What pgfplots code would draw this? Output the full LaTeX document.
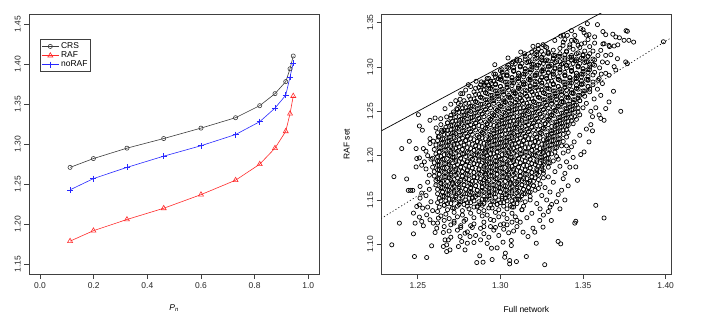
\documentclass[border=0pt]{standalone}
\usepackage{fontspec}
\setmainfont{Liberation Sans}
\usepackage{pgfplots}
\pgfplotsset{compat=1.18}

\definecolor{crs}{RGB}{60,60,60}
\definecolor{rafred}{RGB}{255,40,40}
\definecolor{norafblue}{RGB}{40,40,255}

\pgfplotsset{
  rstyle/.style={
    scale only axis,
    axis line style={black!75, line width=0.6pt},
    tick style={black!75, line width=0.6pt},
    tick align=outside,
    major tick length=5bp,
    xtick pos=left, ytick pos=left,
    tick label style={font=\fontsize{8.5}{10}\selectfont, black!85},
    /pgf/number format/assume math mode=true,
    yticklabel style={rotate=90, anchor=south},
    label style={font=\fontsize{8.5}{10}\selectfont},
  }
}

\begin{document}
\begin{tikzpicture}
\path[use as bounding box] (0,0) rectangle (708bp,329bp);

% ---- left panel ----
\begin{axis}[rstyle,
  at={(29.3bp,55bp)}, anchor=south west,
  width=289.7bp, height=259.7bp,
  xmin=-0.04, xmax=1.04, ymin=1.138, ymax=1.462,
  xtick={0,0.2,0.4,0.6,0.8,1.0},
  ytick={1.15,1.20,1.25,1.30,1.35,1.40,1.45},
  xticklabel style={/pgf/number format/fixed, /pgf/number format/fixed zerofill, /pgf/number format/precision=1},
  yticklabel style={/pgf/number format/fixed, /pgf/number format/fixed zerofill, /pgf/number format/precision=2},
  xlabel={\textit{P}\textsubscript{\textit{n}}},
  xlabel style={at={(axis description cs:0.5,-0.131)}, anchor=center},
  legend style={at={(rel axis cs:0.037,0.904)}, anchor=north west,
    draw=black!75, line width=0.6pt, inner sep=1.2pt, row sep=-2.2pt,
    font=\fontsize{8.5}{10}\selectfont},
  legend cell align=left,
]
\addplot[crs, line width=0.6pt, mark=o, mark size=2.1bp] coordinates {
  (0.112,1.271) (0.199,1.282) (0.324,1.295) (0.461,1.307) (0.600,1.320) (0.729,1.333)
  (0.819,1.348) (0.876,1.363) (0.916,1.378) (0.932,1.394) (0.944,1.410)
};
\addlegendentry{CRS}
\addplot[rafred, line width=0.6pt, mark=triangle, mark size=2.9bp] coordinates {
  (0.112,1.179) (0.199,1.192) (0.324,1.206) (0.461,1.220) (0.600,1.237) (0.729,1.255)
  (0.819,1.275) (0.876,1.295) (0.916,1.316) (0.932,1.338) (0.944,1.360)
};
\addlegendentry{RAF}
\addplot[norafblue, line width=0.6pt, mark=+, mark size=3bp] coordinates {
  (0.112,1.243) (0.199,1.257) (0.324,1.271) (0.461,1.285) (0.600,1.298) (0.729,1.312)
  (0.819,1.328) (0.876,1.345) (0.916,1.361) (0.932,1.384) (0.944,1.401)
};
\addlegendentry{noRAF}
\end{axis}

% ---- right panel ----
\begin{axis}[rstyle,
  at={(381.7bp,55bp)}, anchor=south west,
  width=289.3bp, height=260bp,
  xmin=1.2282, xmax=1.4032, ymin=1.0665, ymax=1.3598,
  xtick={1.25,1.30,1.35,1.40},
  ytick={1.10,1.15,1.20,1.25,1.30,1.35},
  xticklabel style={/pgf/number format/fixed, /pgf/number format/fixed zerofill, /pgf/number format/precision=2},
  yticklabel style={/pgf/number format/fixed, /pgf/number format/fixed zerofill, /pgf/number format/precision=2},
  xlabel={Full network},
  xlabel style={at={(axis description cs:0.5,-0.138)}, anchor=center},
  ylabel={RAF set},
  ylabel style={at={(axis description cs:-0.121,0.5)}, anchor=center},
]
\addplot[only marks, mark=o, mark size=2.1bp, black, mark options={line width=0.7pt}] coordinates {
% dense core, row by row
(1.328,1.322)(1.332,1.319)(1.336,1.321)(1.340,1.318)(1.344,1.320)(1.348,1.322)(1.351,1.318)
(1.322,1.317)(1.326,1.314)(1.329,1.316)(1.333,1.313)(1.336,1.315)(1.340,1.317)(1.343,1.313)(1.347,1.316)(1.350,1.314)(1.354,1.315)
(1.318,1.312)(1.321,1.309)(1.325,1.311)(1.328,1.308)(1.332,1.310)(1.335,1.312)(1.339,1.308)(1.342,1.311)(1.346,1.309)(1.349,1.310)(1.353,1.312)(1.356,1.309)
(1.310,1.307)(1.313,1.304)(1.317,1.306)(1.320,1.303)(1.324,1.305)(1.327,1.307)(1.331,1.303)(1.334,1.306)(1.338,1.304)(1.341,1.305)(1.345,1.307)(1.348,1.304)(1.352,1.306)(1.356,1.303)
(1.305,1.302)(1.308,1.299)(1.312,1.301)(1.315,1.298)(1.319,1.300)(1.322,1.302)(1.326,1.298)(1.329,1.301)(1.333,1.299)(1.336,1.300)(1.340,1.302)(1.343,1.299)(1.347,1.301)(1.350,1.298)(1.354,1.300)(1.357,1.302)
(1.301,1.297)(1.304,1.294)(1.308,1.296)(1.311,1.293)(1.315,1.295)(1.318,1.297)(1.322,1.293)(1.325,1.296)(1.329,1.294)(1.332,1.295)(1.336,1.297)(1.339,1.294)(1.343,1.296)(1.346,1.293)(1.350,1.295)(1.353,1.297)(1.357,1.294)
(1.297,1.292)(1.300,1.289)(1.304,1.291)(1.307,1.288)(1.311,1.290)(1.314,1.292)(1.318,1.288)(1.321,1.291)(1.325,1.289)(1.328,1.290)(1.332,1.292)(1.335,1.289)(1.339,1.291)(1.342,1.288)(1.346,1.290)(1.349,1.292)(1.353,1.289)(1.356,1.291)
(1.293,1.287)(1.296,1.284)(1.300,1.286)(1.303,1.283)(1.307,1.285)(1.310,1.287)(1.314,1.283)(1.317,1.286)(1.321,1.284)(1.324,1.285)(1.328,1.287)(1.331,1.284)(1.335,1.286)(1.338,1.283)(1.342,1.285)(1.345,1.287)(1.349,1.284)(1.352,1.286)(1.356,1.283)
(1.290,1.282)(1.293,1.279)(1.297,1.281)(1.300,1.278)(1.304,1.280)(1.307,1.282)(1.311,1.278)(1.314,1.281)(1.318,1.279)(1.321,1.280)(1.325,1.282)(1.328,1.279)(1.332,1.281)(1.335,1.278)(1.339,1.280)(1.342,1.282)(1.346,1.279)(1.349,1.281)(1.353,1.278)(1.356,1.280)
(1.287,1.277)(1.290,1.274)(1.294,1.276)(1.297,1.273)(1.301,1.275)(1.304,1.277)(1.308,1.273)(1.311,1.276)(1.315,1.274)(1.318,1.275)(1.322,1.277)(1.325,1.274)(1.329,1.276)(1.332,1.273)(1.336,1.275)(1.339,1.277)(1.343,1.274)(1.346,1.276)(1.350,1.273)(1.354,1.275)
(1.284,1.272)(1.287,1.269)(1.291,1.271)(1.294,1.268)(1.298,1.270)(1.301,1.272)(1.305,1.268)(1.308,1.271)(1.312,1.269)(1.315,1.270)(1.319,1.272)(1.322,1.269)(1.326,1.271)(1.329,1.268)(1.333,1.270)(1.336,1.272)(1.340,1.269)(1.343,1.271)(1.347,1.268)(1.350,1.270)(1.354,1.272)
(1.281,1.267)(1.284,1.264)(1.288,1.266)(1.291,1.263)(1.295,1.265)(1.298,1.267)(1.302,1.263)(1.305,1.266)(1.309,1.264)(1.312,1.265)(1.316,1.267)(1.319,1.264)(1.323,1.266)(1.326,1.263)(1.330,1.265)(1.333,1.267)(1.337,1.264)(1.340,1.266)(1.344,1.263)(1.347,1.265)(1.351,1.267)
(1.278,1.262)(1.281,1.259)(1.285,1.261)(1.288,1.258)(1.292,1.260)(1.295,1.262)(1.299,1.258)(1.302,1.261)(1.306,1.259)(1.309,1.260)(1.313,1.262)(1.316,1.259)(1.320,1.261)(1.323,1.258)(1.327,1.260)(1.330,1.262)(1.334,1.259)(1.337,1.261)(1.341,1.258)(1.344,1.260)(1.348,1.262)(1.352,1.259)
(1.276,1.257)(1.279,1.254)(1.283,1.256)(1.286,1.253)(1.290,1.255)(1.293,1.257)(1.297,1.253)(1.300,1.256)(1.304,1.254)(1.307,1.255)(1.311,1.257)(1.314,1.254)(1.318,1.256)(1.321,1.253)(1.325,1.255)(1.328,1.257)(1.332,1.254)(1.335,1.256)(1.339,1.253)(1.342,1.255)(1.346,1.257)(1.350,1.254)
(1.274,1.252)(1.277,1.249)(1.281,1.251)(1.284,1.248)(1.288,1.250)(1.291,1.252)(1.295,1.248)(1.298,1.251)(1.302,1.249)(1.305,1.250)(1.309,1.252)(1.312,1.249)(1.316,1.251)(1.319,1.248)(1.323,1.250)(1.326,1.252)(1.330,1.249)(1.333,1.251)(1.337,1.248)(1.340,1.250)(1.344,1.252)(1.347,1.249)
(1.272,1.247)(1.275,1.244)(1.279,1.246)(1.282,1.243)(1.286,1.245)(1.289,1.247)(1.293,1.243)(1.296,1.246)(1.300,1.244)(1.303,1.245)(1.307,1.247)(1.310,1.244)(1.314,1.246)(1.317,1.243)(1.321,1.245)(1.324,1.247)(1.328,1.244)(1.331,1.246)(1.335,1.243)(1.338,1.245)(1.342,1.247)(1.345,1.244)(1.348,1.246)
(1.270,1.242)(1.273,1.239)(1.277,1.241)(1.280,1.238)(1.284,1.240)(1.287,1.242)(1.291,1.238)(1.294,1.241)(1.298,1.239)(1.301,1.240)(1.305,1.242)(1.308,1.239)(1.312,1.241)(1.315,1.238)(1.319,1.240)(1.322,1.242)(1.326,1.239)(1.329,1.241)(1.333,1.238)(1.336,1.240)(1.340,1.242)(1.343,1.239)(1.346,1.241)
(1.268,1.237)(1.271,1.234)(1.275,1.236)(1.278,1.233)(1.282,1.235)(1.285,1.237)(1.289,1.233)(1.292,1.236)(1.296,1.234)(1.299,1.235)(1.303,1.237)(1.306,1.234)(1.310,1.236)(1.313,1.233)(1.317,1.235)(1.320,1.237)(1.324,1.234)(1.327,1.236)(1.331,1.233)(1.334,1.235)(1.338,1.237)(1.341,1.234)(1.344,1.236)
(1.267,1.232)(1.270,1.229)(1.274,1.231)(1.277,1.228)(1.281,1.230)(1.284,1.232)(1.288,1.228)(1.291,1.231)(1.295,1.229)(1.298,1.230)(1.302,1.232)(1.305,1.229)(1.309,1.231)(1.312,1.228)(1.316,1.230)(1.319,1.232)(1.323,1.229)(1.326,1.231)(1.330,1.228)(1.333,1.230)(1.337,1.232)(1.340,1.229)
(1.265,1.227)(1.268,1.224)(1.272,1.226)(1.275,1.223)(1.279,1.225)(1.282,1.227)(1.286,1.223)(1.289,1.226)(1.293,1.224)(1.296,1.225)(1.300,1.227)(1.303,1.224)(1.307,1.226)(1.310,1.223)(1.314,1.225)(1.317,1.227)(1.321,1.224)(1.324,1.226)(1.328,1.223)(1.331,1.225)(1.335,1.227)(1.338,1.224)(1.341,1.226)
(1.263,1.222)(1.266,1.219)(1.270,1.221)(1.273,1.218)(1.277,1.220)(1.280,1.222)(1.284,1.218)(1.287,1.221)(1.291,1.219)(1.294,1.220)(1.298,1.222)(1.301,1.219)(1.305,1.221)(1.308,1.218)(1.312,1.220)(1.315,1.222)(1.319,1.219)(1.322,1.221)(1.326,1.218)(1.329,1.220)(1.333,1.222)(1.336,1.219)(1.340,1.221)
(1.262,1.217)(1.265,1.214)(1.269,1.216)(1.272,1.213)(1.276,1.215)(1.279,1.217)(1.283,1.213)(1.286,1.216)(1.290,1.214)(1.293,1.215)(1.297,1.217)(1.300,1.214)(1.304,1.216)(1.307,1.213)(1.311,1.215)(1.314,1.217)(1.318,1.214)(1.321,1.216)(1.325,1.213)(1.328,1.215)(1.332,1.217)(1.335,1.214)(1.338,1.216)
(1.261,1.212)(1.264,1.209)(1.268,1.211)(1.271,1.208)(1.275,1.210)(1.278,1.212)(1.282,1.208)(1.285,1.211)(1.289,1.209)(1.292,1.210)(1.296,1.212)(1.299,1.209)(1.303,1.211)(1.306,1.208)(1.310,1.210)(1.313,1.212)(1.317,1.209)(1.320,1.211)(1.324,1.208)(1.327,1.210)(1.331,1.212)(1.334,1.209)(1.337,1.211)
(1.260,1.207)(1.263,1.204)(1.267,1.206)(1.270,1.203)(1.274,1.205)(1.277,1.207)(1.281,1.203)(1.284,1.206)(1.288,1.204)(1.291,1.205)(1.295,1.207)(1.298,1.204)(1.302,1.206)(1.305,1.203)(1.309,1.205)(1.312,1.207)(1.316,1.204)(1.319,1.206)(1.323,1.203)(1.326,1.205)(1.330,1.207)(1.333,1.204)
(1.261,1.202)(1.264,1.199)(1.268,1.201)(1.271,1.198)(1.275,1.200)(1.278,1.202)(1.282,1.198)(1.285,1.201)(1.289,1.199)(1.292,1.200)(1.296,1.202)(1.299,1.199)(1.303,1.201)(1.306,1.198)(1.310,1.200)(1.313,1.202)(1.317,1.199)(1.320,1.201)(1.324,1.198)(1.327,1.200)(1.331,1.202)(1.334,1.199)
(1.259,1.197)(1.262,1.194)(1.266,1.196)(1.269,1.193)(1.273,1.195)(1.276,1.197)(1.280,1.193)(1.283,1.196)(1.287,1.194)(1.290,1.195)(1.294,1.197)(1.297,1.194)(1.301,1.196)(1.304,1.193)(1.308,1.195)(1.311,1.197)(1.315,1.194)(1.318,1.196)(1.322,1.193)(1.325,1.195)(1.329,1.197)(1.332,1.194)
(1.260,1.192)(1.263,1.189)(1.267,1.191)(1.270,1.188)(1.274,1.190)(1.277,1.192)(1.281,1.188)(1.284,1.191)(1.288,1.189)(1.291,1.190)(1.295,1.192)(1.298,1.189)(1.302,1.191)(1.305,1.188)(1.309,1.190)(1.312,1.192)(1.316,1.189)(1.319,1.191)(1.323,1.188)(1.326,1.190)(1.330,1.192)
(1.259,1.187)(1.262,1.184)(1.266,1.186)(1.269,1.183)(1.273,1.185)(1.276,1.187)(1.280,1.183)(1.283,1.186)(1.287,1.184)(1.290,1.185)(1.294,1.187)(1.297,1.184)(1.301,1.186)(1.304,1.183)(1.308,1.185)(1.311,1.187)(1.315,1.184)(1.318,1.186)(1.322,1.183)(1.325,1.185)(1.329,1.187)
(1.260,1.182)(1.263,1.179)(1.267,1.181)(1.270,1.178)(1.274,1.180)(1.277,1.182)(1.281,1.178)(1.284,1.181)(1.288,1.179)(1.291,1.180)(1.295,1.182)(1.298,1.179)(1.302,1.181)(1.305,1.178)(1.309,1.180)(1.312,1.182)(1.316,1.179)(1.319,1.181)(1.323,1.178)(1.326,1.180)
(1.260,1.177)(1.263,1.174)(1.267,1.176)(1.270,1.173)(1.274,1.175)(1.277,1.177)(1.281,1.173)(1.284,1.176)(1.288,1.174)(1.291,1.175)(1.295,1.177)(1.298,1.174)(1.302,1.176)(1.305,1.173)(1.309,1.175)(1.312,1.177)(1.316,1.174)(1.319,1.176)(1.323,1.173)(1.326,1.175)
(1.261,1.172)(1.264,1.169)(1.268,1.171)(1.271,1.168)(1.275,1.170)(1.278,1.172)(1.282,1.168)(1.285,1.171)(1.289,1.169)(1.292,1.170)(1.296,1.172)(1.299,1.169)(1.303,1.171)(1.306,1.168)(1.310,1.170)(1.313,1.172)(1.317,1.169)(1.320,1.171)(1.324,1.168)
(1.261,1.167)(1.264,1.164)(1.268,1.166)(1.271,1.163)(1.275,1.165)(1.278,1.167)(1.282,1.163)(1.285,1.166)(1.289,1.164)(1.292,1.165)(1.296,1.167)(1.299,1.164)(1.303,1.166)(1.306,1.163)(1.310,1.165)(1.313,1.167)(1.317,1.164)(1.320,1.166)(1.323,1.163)
(1.262,1.162)(1.265,1.159)(1.269,1.161)(1.272,1.158)(1.276,1.160)(1.279,1.162)(1.283,1.158)(1.286,1.161)(1.290,1.159)(1.293,1.160)(1.297,1.162)(1.300,1.159)(1.304,1.161)(1.307,1.158)(1.311,1.160)(1.314,1.162)(1.318,1.159)(1.321,1.161)
(1.262,1.157)(1.266,1.154)(1.269,1.156)(1.273,1.153)(1.276,1.155)(1.280,1.157)(1.283,1.153)(1.287,1.156)(1.290,1.154)(1.294,1.155)(1.297,1.157)(1.301,1.154)(1.304,1.156)(1.308,1.153)(1.311,1.155)(1.315,1.157)(1.318,1.154)
(1.263,1.152)(1.267,1.149)(1.271,1.151)(1.275,1.148)(1.279,1.150)(1.283,1.152)(1.287,1.148)(1.291,1.151)(1.295,1.149)(1.299,1.150)(1.303,1.152)(1.307,1.149)(1.311,1.151)(1.315,1.148)(1.318,1.150)
(1.262,1.147)(1.266,1.144)(1.270,1.146)(1.274,1.143)(1.278,1.145)(1.282,1.147)(1.286,1.143)(1.290,1.146)(1.294,1.144)(1.298,1.145)(1.302,1.147)(1.306,1.144)(1.310,1.146)(1.314,1.143)
(1.263,1.142)(1.268,1.139)(1.272,1.141)(1.277,1.138)(1.281,1.140)(1.286,1.142)(1.290,1.138)(1.295,1.141)(1.299,1.139)(1.304,1.140)(1.308,1.142)(1.313,1.139)
(1.262,1.137)(1.267,1.134)(1.272,1.136)(1.277,1.133)(1.282,1.135)(1.287,1.137)(1.292,1.133)(1.297,1.136)(1.302,1.134)(1.307,1.135)
(1.264,1.132)(1.269,1.129)(1.274,1.131)(1.279,1.128)(1.284,1.130)(1.289,1.132)(1.294,1.128)(1.299,1.131)(1.304,1.129)
(1.266,1.127)(1.272,1.124)(1.278,1.126)(1.284,1.123)(1.290,1.125)(1.296,1.127)(1.302,1.123)
(1.270,1.122)(1.276,1.119)(1.282,1.121)(1.288,1.118)(1.294,1.120)(1.300,1.122)
% dense core, rows in between
(1.322,1.314)(1.325,1.311)(1.329,1.315)(1.332,1.313)(1.336,1.312)(1.339,1.314)(1.343,1.311)(1.346,1.315)(1.350,1.313)(1.353,1.312)
(1.315,1.309)(1.318,1.306)(1.322,1.310)(1.325,1.308)(1.329,1.307)(1.332,1.309)(1.336,1.306)(1.339,1.310)(1.343,1.308)(1.346,1.307)(1.350,1.309)(1.353,1.306)
(1.309,1.304)(1.312,1.301)(1.316,1.305)(1.319,1.303)(1.323,1.302)(1.326,1.304)(1.330,1.301)(1.333,1.305)(1.337,1.303)(1.340,1.302)(1.344,1.304)(1.347,1.301)(1.351,1.305)(1.354,1.303)
(1.305,1.299)(1.308,1.296)(1.312,1.300)(1.315,1.298)(1.319,1.297)(1.322,1.299)(1.326,1.296)(1.329,1.300)(1.333,1.298)(1.336,1.297)(1.340,1.299)(1.343,1.296)(1.347,1.300)(1.350,1.298)(1.354,1.297)
(1.301,1.294)(1.304,1.291)(1.308,1.295)(1.311,1.293)(1.315,1.292)(1.318,1.294)(1.322,1.291)(1.325,1.295)(1.329,1.293)(1.332,1.292)(1.336,1.294)(1.339,1.291)(1.343,1.295)(1.346,1.293)(1.350,1.292)(1.353,1.294)
(1.297,1.289)(1.300,1.286)(1.304,1.290)(1.307,1.288)(1.311,1.287)(1.314,1.289)(1.318,1.286)(1.321,1.290)(1.325,1.288)(1.328,1.287)(1.332,1.289)(1.335,1.286)(1.339,1.290)(1.342,1.288)(1.346,1.287)(1.349,1.289)(1.353,1.286)
(1.294,1.284)(1.297,1.281)(1.301,1.285)(1.304,1.283)(1.308,1.282)(1.311,1.284)(1.315,1.281)(1.318,1.285)(1.322,1.283)(1.325,1.282)(1.329,1.284)(1.332,1.281)(1.336,1.285)(1.339,1.283)(1.343,1.282)(1.346,1.284)(1.350,1.281)(1.353,1.285)
(1.290,1.279)(1.293,1.276)(1.297,1.280)(1.300,1.278)(1.304,1.277)(1.307,1.279)(1.311,1.276)(1.314,1.280)(1.318,1.278)(1.321,1.277)(1.325,1.279)(1.328,1.276)(1.332,1.280)(1.335,1.278)(1.339,1.277)(1.342,1.279)(1.346,1.276)(1.349,1.280)(1.353,1.278)
(1.288,1.274)(1.291,1.271)(1.295,1.275)(1.298,1.273)(1.302,1.272)(1.305,1.274)(1.309,1.271)(1.312,1.275)(1.316,1.273)(1.319,1.272)(1.323,1.274)(1.326,1.271)(1.330,1.275)(1.333,1.273)(1.337,1.272)(1.340,1.274)(1.344,1.271)(1.347,1.275)(1.351,1.273)
(1.285,1.269)(1.288,1.266)(1.292,1.270)(1.295,1.268)(1.299,1.267)(1.302,1.269)(1.306,1.266)(1.309,1.270)(1.313,1.268)(1.316,1.267)(1.320,1.269)(1.323,1.266)(1.327,1.270)(1.330,1.268)(1.334,1.267)(1.337,1.269)(1.341,1.266)(1.344,1.270)(1.348,1.268)
(1.282,1.264)(1.285,1.261)(1.289,1.265)(1.292,1.263)(1.296,1.262)(1.299,1.264)(1.303,1.261)(1.306,1.265)(1.310,1.263)(1.313,1.262)(1.317,1.264)(1.320,1.261)(1.324,1.265)(1.327,1.263)(1.331,1.262)(1.334,1.264)(1.338,1.261)(1.341,1.265)(1.345,1.263)(1.348,1.262)
(1.279,1.259)(1.282,1.256)(1.286,1.260)(1.289,1.258)(1.293,1.257)(1.296,1.259)(1.300,1.256)(1.303,1.260)(1.307,1.258)(1.310,1.257)(1.314,1.259)(1.317,1.256)(1.321,1.260)(1.324,1.258)(1.328,1.257)(1.331,1.259)(1.335,1.256)(1.338,1.260)(1.342,1.258)(1.345,1.257)
(1.277,1.254)(1.280,1.251)(1.284,1.255)(1.287,1.253)(1.291,1.252)(1.294,1.254)(1.298,1.251)(1.301,1.255)(1.305,1.253)(1.308,1.252)(1.312,1.254)(1.315,1.251)(1.319,1.255)(1.322,1.253)(1.326,1.252)(1.329,1.254)(1.333,1.251)(1.336,1.255)(1.340,1.253)(1.343,1.252)(1.347,1.254)
(1.275,1.249)(1.278,1.246)(1.282,1.250)(1.285,1.248)(1.289,1.247)(1.292,1.249)(1.296,1.246)(1.299,1.250)(1.303,1.248)(1.306,1.247)(1.310,1.249)(1.313,1.246)(1.317,1.250)(1.320,1.248)(1.324,1.247)(1.327,1.249)(1.331,1.246)(1.334,1.250)(1.338,1.248)(1.341,1.247)(1.345,1.249)
(1.273,1.244)(1.276,1.241)(1.280,1.245)(1.283,1.243)(1.287,1.242)(1.290,1.244)(1.294,1.241)(1.297,1.245)(1.301,1.243)(1.304,1.242)(1.308,1.244)(1.311,1.241)(1.315,1.245)(1.318,1.243)(1.322,1.242)(1.325,1.244)(1.329,1.241)(1.332,1.245)(1.336,1.243)(1.339,1.242)(1.343,1.244)
(1.271,1.239)(1.274,1.236)(1.278,1.240)(1.281,1.238)(1.285,1.237)(1.288,1.239)(1.292,1.236)(1.295,1.240)(1.299,1.238)(1.302,1.237)(1.306,1.239)(1.309,1.236)(1.313,1.240)(1.316,1.238)(1.320,1.237)(1.323,1.239)(1.327,1.236)(1.330,1.240)(1.334,1.238)(1.337,1.237)(1.341,1.239)
(1.270,1.234)(1.273,1.231)(1.277,1.235)(1.280,1.233)(1.284,1.232)(1.287,1.234)(1.291,1.231)(1.294,1.235)(1.298,1.233)(1.301,1.232)(1.305,1.234)(1.308,1.231)(1.312,1.235)(1.315,1.233)(1.319,1.232)(1.322,1.234)(1.326,1.231)(1.329,1.235)(1.333,1.233)(1.336,1.232)(1.340,1.234)
(1.268,1.229)(1.271,1.226)(1.275,1.230)(1.278,1.228)(1.282,1.227)(1.285,1.229)(1.289,1.226)(1.292,1.230)(1.296,1.228)(1.299,1.227)(1.303,1.229)(1.306,1.226)(1.310,1.230)(1.313,1.228)(1.317,1.227)(1.320,1.229)(1.324,1.226)(1.327,1.230)(1.331,1.228)(1.334,1.227)(1.338,1.229)
(1.266,1.224)(1.269,1.221)(1.273,1.225)(1.276,1.223)(1.280,1.222)(1.283,1.224)(1.287,1.221)(1.290,1.225)(1.294,1.223)(1.297,1.222)(1.301,1.224)(1.304,1.221)(1.308,1.225)(1.311,1.223)(1.315,1.222)(1.318,1.224)(1.322,1.221)(1.325,1.225)(1.329,1.223)(1.332,1.222)(1.336,1.224)
(1.265,1.219)(1.268,1.216)(1.272,1.220)(1.275,1.218)(1.279,1.217)(1.282,1.219)(1.286,1.216)(1.289,1.220)(1.293,1.218)(1.296,1.217)(1.300,1.219)(1.303,1.216)(1.307,1.220)(1.310,1.218)(1.314,1.217)(1.317,1.219)(1.321,1.216)(1.324,1.220)(1.328,1.218)(1.331,1.217)(1.335,1.219)
(1.264,1.214)(1.267,1.211)(1.271,1.215)(1.274,1.213)(1.278,1.212)(1.281,1.214)(1.285,1.211)(1.288,1.215)(1.292,1.213)(1.295,1.212)(1.299,1.214)(1.302,1.211)(1.306,1.215)(1.309,1.213)(1.313,1.212)(1.316,1.214)(1.320,1.211)(1.323,1.215)(1.327,1.213)(1.330,1.212)(1.334,1.214)
(1.263,1.209)(1.266,1.206)(1.270,1.210)(1.273,1.208)(1.277,1.207)(1.280,1.209)(1.284,1.206)(1.287,1.210)(1.291,1.208)(1.294,1.207)(1.298,1.209)(1.301,1.206)(1.305,1.210)(1.308,1.208)(1.312,1.207)(1.315,1.209)(1.319,1.206)(1.322,1.210)(1.326,1.208)(1.329,1.207)(1.333,1.209)
(1.263,1.204)(1.266,1.201)(1.270,1.205)(1.273,1.203)(1.277,1.202)(1.280,1.204)(1.284,1.201)(1.287,1.205)(1.291,1.203)(1.294,1.202)(1.298,1.204)(1.301,1.201)(1.305,1.205)(1.308,1.203)(1.312,1.202)(1.315,1.204)(1.319,1.201)(1.322,1.205)(1.326,1.203)(1.329,1.202)
(1.262,1.199)(1.265,1.196)(1.269,1.200)(1.272,1.198)(1.276,1.197)(1.279,1.199)(1.283,1.196)(1.286,1.200)(1.290,1.198)(1.293,1.197)(1.297,1.199)(1.300,1.196)(1.304,1.200)(1.307,1.198)(1.311,1.197)(1.314,1.199)(1.318,1.196)(1.321,1.200)(1.325,1.198)(1.328,1.197)
(1.263,1.194)(1.266,1.191)(1.270,1.195)(1.273,1.193)(1.277,1.192)(1.280,1.194)(1.284,1.191)(1.287,1.195)(1.291,1.193)(1.294,1.192)(1.298,1.194)(1.301,1.191)(1.305,1.195)(1.308,1.193)(1.312,1.192)(1.315,1.194)(1.319,1.191)(1.322,1.195)(1.326,1.193)(1.329,1.192)
(1.262,1.189)(1.265,1.186)(1.269,1.190)(1.272,1.188)(1.276,1.187)(1.279,1.189)(1.283,1.186)(1.286,1.190)(1.290,1.188)(1.293,1.187)(1.297,1.189)(1.300,1.186)(1.304,1.190)(1.307,1.188)(1.311,1.187)(1.314,1.189)(1.318,1.186)(1.321,1.190)(1.325,1.188)
(1.263,1.184)(1.266,1.181)(1.270,1.185)(1.273,1.183)(1.277,1.182)(1.280,1.184)(1.284,1.181)(1.287,1.185)(1.291,1.183)(1.294,1.182)(1.298,1.184)(1.301,1.181)(1.305,1.185)(1.308,1.183)(1.312,1.182)(1.315,1.184)(1.319,1.181)(1.322,1.185)(1.326,1.183)
(1.263,1.179)(1.266,1.176)(1.270,1.180)(1.273,1.178)(1.277,1.177)(1.280,1.179)(1.284,1.176)(1.287,1.180)(1.291,1.178)(1.294,1.177)(1.298,1.179)(1.301,1.176)(1.305,1.180)(1.308,1.178)(1.312,1.177)(1.315,1.179)(1.319,1.176)(1.322,1.180)
(1.262,1.174)(1.265,1.171)(1.269,1.175)(1.272,1.173)(1.276,1.172)(1.279,1.174)(1.283,1.171)(1.286,1.175)(1.290,1.173)(1.293,1.172)(1.297,1.174)(1.300,1.171)(1.304,1.175)(1.307,1.173)(1.311,1.172)(1.314,1.174)(1.318,1.171)(1.321,1.175)
(1.264,1.169)(1.267,1.166)(1.271,1.170)(1.274,1.168)(1.278,1.167)(1.281,1.169)(1.285,1.166)(1.288,1.170)(1.292,1.168)(1.295,1.167)(1.299,1.169)(1.302,1.166)(1.306,1.170)(1.309,1.168)(1.313,1.167)(1.316,1.169)(1.320,1.166)
(1.265,1.164)(1.268,1.161)(1.272,1.165)(1.275,1.163)(1.279,1.162)(1.282,1.164)(1.286,1.161)(1.289,1.165)(1.293,1.163)(1.296,1.162)(1.300,1.164)(1.303,1.161)(1.307,1.165)(1.310,1.163)(1.314,1.162)(1.317,1.164)
(1.265,1.159)(1.268,1.156)(1.272,1.160)(1.275,1.158)(1.279,1.157)(1.282,1.159)(1.286,1.156)(1.289,1.160)(1.293,1.158)(1.296,1.157)(1.300,1.159)(1.303,1.156)(1.307,1.160)(1.310,1.158)(1.314,1.157)(1.317,1.159)
(1.265,1.154)(1.269,1.151)(1.273,1.155)(1.277,1.153)(1.281,1.152)(1.285,1.154)(1.289,1.151)(1.293,1.155)(1.297,1.153)(1.301,1.152)(1.305,1.154)(1.309,1.151)(1.313,1.155)
(1.264,1.149)(1.268,1.146)(1.272,1.150)(1.276,1.148)(1.280,1.147)(1.284,1.149)(1.288,1.146)(1.292,1.150)(1.296,1.148)(1.300,1.147)(1.304,1.149)(1.308,1.146)(1.312,1.150)
(1.266,1.144)(1.271,1.141)(1.275,1.145)(1.280,1.143)(1.284,1.142)(1.289,1.144)(1.293,1.141)(1.298,1.145)(1.302,1.143)(1.307,1.142)
% upper edge and near the solid line
(1.345,1.330)(1.349,1.326)(1.342,1.325)(1.338,1.328)(1.353,1.331)(1.357,1.327)(1.362,1.326)(1.366,1.323)(1.371,1.325)
(1.338,1.336)(1.352,1.336)(1.357,1.334)(1.368,1.337)(1.343,1.341)(1.350,1.342)(1.362,1.340)(1.376,1.341)
(1.3806,1.3281)(1.3777,1.3301)(1.3720,1.3330)
(1.2806,1.2801)(1.2853,1.2839)(1.2772,1.2699)(1.2756,1.2636)(1.2746,1.2587)(1.2736,1.2530)
(1.2504,1.2462)(1.2510,1.2335)(1.2528,1.2287)(1.2574,1.2399)(1.2605,1.2425)(1.2639,1.2417)
(1.2665,1.2530)(1.2675,1.2437)(1.2701,1.2456)(1.2716,1.2493)(1.2611,1.2313)(1.2645,1.2287)
(1.2449,1.2162)(1.2574,1.2192)(1.2594,1.2163)(1.2625,1.2211)
(1.2966,1.3026)(1.3046,1.3102)(1.3076,1.3057)(1.3117,1.3075)(1.3123,1.3169)(1.3147,1.3150)
(1.3197,1.3233)(1.3228,1.3244)(1.3258,1.3252)(1.3248,1.3177)(1.3208,1.3150)(1.3288,1.3169)
(1.3329,1.3300)(1.3365,1.3349)(1.3405,1.3357)(1.3450,1.3357)(1.3379,1.3244)(1.3419,1.3225)(1.3470,1.3244)
(1.2986,1.2869)(1.3016,1.2907)(1.2945,1.2813)(1.2885,1.2832)(1.2905,1.2794)(1.2915,1.2832)
(1.2640,1.2350)(1.2680,1.2370)(1.2660,1.2290)(1.2620,1.2260)(1.2700,1.2580)(1.2730,1.2620)(1.2760,1.2700)
(1.2790,1.2740)(1.2820,1.2780)(1.2850,1.2760)(1.2880,1.2800)(1.2920,1.2870)(1.2960,1.2920)(1.3000,1.2960)
(1.3040,1.3000)(1.3070,1.3040)(1.3100,1.3090)(1.3150,1.3120)(1.3190,1.3170)(1.3230,1.3200)(1.3270,1.3230)
% upper right
(1.3526,1.3489)(1.3587,1.3478)(1.3486,1.3433)(1.3506,1.3387)(1.3536,1.3365)(1.3637,1.3365)(1.3698,1.3339)
(1.3768,1.3403)(1.3748,1.3301)(1.3986,1.3285)
(1.3627,1.3263)(1.3657,1.3244)(1.3688,1.3237)(1.3607,1.3188)(1.3637,1.3131)(1.3668,1.3139)(1.3708,1.3094)
(1.3617,1.3057)(1.3647,1.3049)(1.3758,1.3057)(1.3768,1.3038)(1.3688,1.3004)(1.3698,1.2966)(1.3637,1.2929)
(1.3657,1.2907)(1.3597,1.2869)(1.3617,1.2813)(1.3684,1.2726)(1.3657,1.2606)(1.3637,1.2531)(1.3728,1.2500)(1.3627,1.2399)
(1.3587,1.2750)(1.3607,1.2680)(1.3567,1.2640)(1.3577,1.2540)(1.3597,1.2460)(1.3557,1.2440)(1.3607,1.2420)
(1.3547,1.2500)(1.3547,1.2350)(1.3520,1.2300)(1.3557,1.2280)
(1.3430,1.3300)(1.3460,1.3290)(1.3390,1.3310)(1.3510,1.3270)(1.3540,1.3230)(1.3560,1.3180)(1.3590,1.3130)
(1.3570,1.3080)(1.3600,1.2990)(1.3610,1.2920)(1.3590,1.2850)
% right side, middle and low
(1.3536,1.2155)(1.3486,1.2012)(1.3506,1.2042)(1.3456,1.1873)(1.3466,1.1722)(1.3577,1.1440)(1.3627,1.1297)(1.3456,1.1260)
(1.3446,1.2155)(1.3480,1.2230)(1.3430,1.2100)(1.3410,1.2050)(1.3440,1.1980)(1.3400,1.1930)(1.3420,1.1870)
(1.3390,1.1800)(1.3380,1.1740)(1.3410,1.1660)(1.3370,1.1610)(1.3350,1.1560)(1.3390,1.1500)(1.3340,1.1480)
(1.3310,1.1450)(1.3360,1.1400)
(1.3450,1.1239)(1.3349,1.1032)(1.3365,1.1005)(1.3268,1.0770)(1.3157,1.0862)(1.3217,1.1012)
(1.2946,1.0956)(1.2895,1.0798)(1.2950,1.0828)(1.3026,1.0854)(1.3056,1.0817)(1.3097,1.0805)(1.3056,1.0779)
(1.3066,1.0986)(1.3066,1.1043)(1.3016,1.1024)(1.2875,1.0870)
(1.3137,1.1137)(1.3167,1.1088)(1.3197,1.1182)(1.3208,1.1137)(1.3258,1.1194)(1.3238,1.1269)(1.3308,1.1269)
(1.3260,1.1330)(1.3290,1.1370)(1.3240,1.1400)(1.3300,1.1420)(1.3220,1.1460)(1.3280,1.1500)(1.3250,1.1550)
(1.3300,1.1590)(1.3270,1.1640)(1.3320,1.1700)(1.3290,1.1760)(1.3330,1.1820)(1.3360,1.1880)(1.3350,1.1960)
(1.3380,1.2030)(1.3400,1.2110)(1.3160,1.1300)(1.3190,1.1350)(1.3120,1.1250)(1.3100,1.1200)(1.3080,1.1150)
(1.3050,1.1130)(1.3020,1.1170)(1.3090,1.1310)(1.3130,1.1390)
% lower left
(1.2403,1.2080)(1.2356,1.1763)(1.2433,1.1737)(1.2443,1.1608)(1.2457,1.1608)(1.2470,1.1608)
(1.2490,1.2080)(1.2494,1.1967)(1.2490,1.1873)(1.2524,1.1892)(1.2510,1.1975)(1.2534,1.2080)(1.2574,1.2137)
(1.2514,1.1653)(1.2524,1.1578)(1.2514,1.1521)(1.2510,1.1446)(1.2530,1.1408)(1.2494,1.1427)(1.2474,1.1352)
(1.2510,1.1307)(1.2524,1.1258)(1.2534,1.1209)(1.2484,1.1239)
(1.2389,1.1239)(1.2474,1.1118)(1.2343,1.0994)(1.2480,1.0862)(1.2554,1.0851)(1.2584,1.0983)
(1.2605,1.1133)(1.2615,1.1182)(1.2655,1.1133)(1.2665,1.1050)(1.2675,1.0994)(1.2695,1.0937)(1.2685,1.1050)
(1.2655,1.0975)(1.2675,1.0918)
(1.2746,1.0975)(1.2766,1.1032)(1.2786,1.0937)(1.2800,1.1012)(1.2816,1.1088)(1.2786,1.1125)(1.2756,1.1088)
(1.2857,1.0794)
(1.2574,1.1277)(1.2594,1.1239)(1.2625,1.1296)(1.2554,1.1333)
(1.2560,1.1700)(1.2570,1.1620)(1.2550,1.1550)(1.2580,1.1480)(1.2560,1.1420)(1.2590,1.1380)(1.2570,1.1780)
(1.2550,1.1850)(1.2540,1.1930)(1.2560,1.2000)(1.2550,1.2050)(1.2580,1.1960)
(1.2690,1.1150)(1.2740,1.1160)(1.2800,1.1140)(1.2850,1.1100)(1.2900,1.1120)(1.2930,1.1080)(1.2960,1.1160)
(1.2990,1.1100)(1.2880,1.1050)(1.2840,1.1020)(1.2920,1.1010)(1.2980,1.0960)(1.2760,1.1210)(1.2830,1.1190)
(1.2900,1.1200)(1.2970,1.1190)(1.3040,1.1220)(1.3070,1.1250)(1.3100,1.1270)(1.2720,1.1260)(1.2660,1.1200)
(1.2620,1.1240)(1.3030,1.0900)(1.2700,1.1080)
};
% y = x reference line and fitted regression line
\addplot[black, line width=0.7pt] coordinates {(1.20,1.20) (1.40,1.40)};
\addplot[black, line width=0.6pt, dash pattern=on 1.2pt off 2.2pt] coordinates {(1.20,1.0966) (1.41,1.3408)};
\end{axis}
\end{tikzpicture}
\end{document}
